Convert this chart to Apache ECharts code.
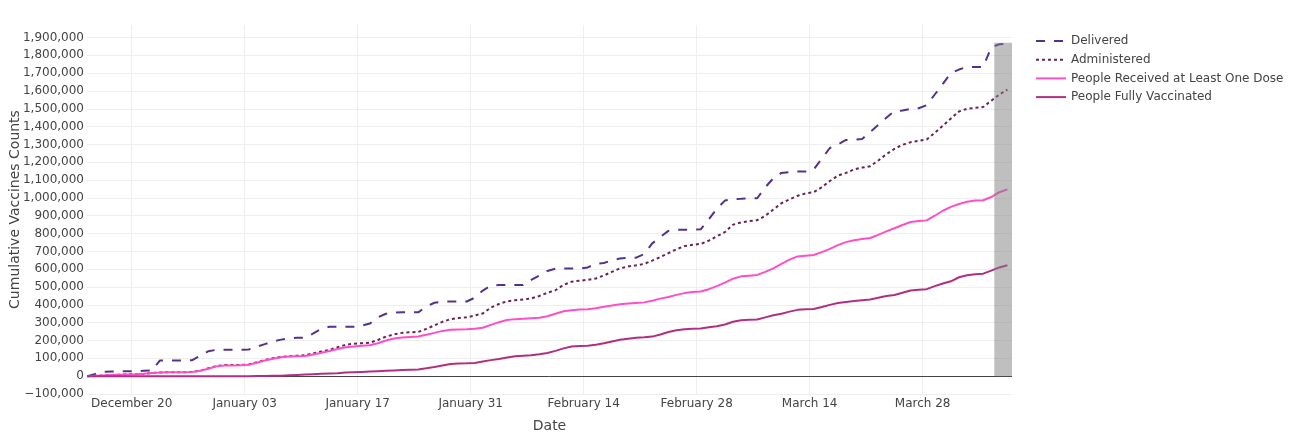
<!DOCTYPE html>
<html><head><meta charset="utf-8">
<script src="https://cdn.jsdelivr.net/npm/echarts@6/dist/echarts.min.js"></script>
<style>html,body{margin:0;padding:0;background:#fff}#c{width:1299px;height:434px}</style>
</head><body><div id="c"></div>
<script>
// ---- data ----
const firstDay = '2020-12-14 12:00';   // daily points, Dec 14 .. Apr 7
const seriesNames = ['Delivered', 'Administered', 'People Received at Least One Dose', 'People Fully Vaccinated'];
const delivered = [
  0, 13000, 25000, 26000, 27000, 27000, 28000, 30000, 32000, 88000,
  88000, 88000, 88000, 90000, 115000, 140000, 148000, 148000, 148000, 148000,
  150000, 165000, 180000, 195000, 205000, 212000, 216000, 216000, 240000, 265000,
  277000, 277000, 277000, 277000, 283000, 295000, 330000, 350000, 356000, 358000,
  358000, 358000, 390000, 412000, 418000, 419000, 419000, 419000, 440000, 480000,
  508000, 511000, 511000, 511000, 511000, 540000, 565000, 590000, 603000, 604000,
  604000, 604000, 610000, 631000, 635000, 650000, 660000, 664000, 665000, 685000,
  745000, 781000, 815000, 822000, 822000, 822000, 824000, 880000, 940000, 985000,
  994000, 995000, 997000, 998000, 1060000, 1110000, 1140000, 1145000, 1148000, 1148000,
  1160000, 1220000, 1280000, 1300000, 1325000, 1327000, 1330000, 1370000, 1410000, 1450000,
  1488000, 1490000, 1500000, 1503000, 1520000, 1580000, 1640000, 1700000, 1720000, 1735000,
  1735000, 1735000, 1845000, 1862000, 1866000
];
const administered = [
  0, 2000, 4000, 6000, 8000, 10000, 11000, 13000, 18000, 21000,
  22000, 22000, 22000, 24000, 31000, 44000, 57000, 62000, 62000, 63000,
  66000, 78000, 91000, 101000, 108000, 112000, 115000, 118000, 128000, 138000,
  148000, 162000, 176000, 182000, 185000, 188000, 203000, 222000, 234000, 243000,
  246000, 248000, 265000, 285000, 305000, 320000, 326000, 330000, 340000, 352000,
  385000, 405000, 420000, 426000, 430000, 436000, 450000, 468000, 482000, 512000,
  530000, 536000, 540000, 548000, 565000, 585000, 605000, 615000, 622000, 630000,
  648000, 668000, 690000, 712000, 730000, 737000, 742000, 760000, 785000, 808000,
  850000, 862000, 870000, 875000, 900000, 935000, 970000, 992000, 1012000, 1025000,
  1032000, 1060000, 1095000, 1125000, 1140000, 1160000, 1170000, 1178000, 1210000, 1245000,
  1275000, 1298000, 1312000, 1320000, 1328000, 1365000, 1405000, 1445000, 1485000, 1500000,
  1505000, 1510000, 1545000, 1580000, 1608000
];
const atLeastOneDose = [
  0, 2000, 4000, 6000, 8000, 10000, 11000, 13000, 18000, 21000,
  22000, 22000, 22000, 24000, 30000, 42000, 55000, 60000, 60000, 61000,
  64000, 75000, 88000, 98000, 106000, 110000, 112000, 113000, 122000, 131000,
  141000, 152000, 162000, 167000, 170000, 173000, 185000, 200000, 211000, 217000,
  220000, 223000, 232000, 243000, 254000, 260000, 262000, 263000, 266000, 272000,
  288000, 303000, 315000, 320000, 322000, 325000, 328000, 336000, 350000, 364000,
  370000, 374000, 376000, 381000, 390000, 397000, 404000, 408000, 411000, 414000,
  423000, 435000, 444000, 456000, 466000, 472000, 475000, 488000, 505000, 525000,
  547000, 560000, 564000, 568000, 585000, 605000, 630000, 654000, 672000, 676000,
  680000, 696000, 714000, 735000, 752000, 763000, 770000, 775000, 793000, 812000,
  830000, 848000, 865000, 870000, 874000, 900000, 928000, 950000, 966000, 978000,
  985000, 987000, 1005000, 1032000, 1048000
];
const fullyVaccinated = [
  0, 0, 0, 0, 0, 0, 0, 0, 0, 0,
  0, 0, 0, 0, 0, 0, 0, 0, 0, 0,
  0, 500, 1000, 2000, 3000, 5000, 7000, 9000, 11000, 13000,
  15000, 17000, 20000, 22000, 24000, 26000, 28000, 30000, 32000, 34000,
  36000, 38000, 44000, 51000, 60000, 68000, 71000, 72000, 74000, 82000,
  90000, 96000, 105000, 112000, 115000, 118000, 123000, 130000, 142000, 156000,
  166000, 169000, 171000, 176000, 185000, 195000, 204000, 210000, 215000, 218000,
  222000, 234000, 248000, 258000, 263000, 266000, 268000, 274000, 280000, 290000,
  305000, 314000, 316000, 318000, 330000, 342000, 350000, 362000, 372000, 375000,
  377000, 388000, 400000, 410000, 416000, 422000, 426000, 430000, 440000, 450000,
  455000, 468000, 481000, 485000, 488000, 505000, 520000, 532000, 555000, 566000,
  572000, 575000, 592000, 610000, 622000
];
const tickDates = ['2020-12-20', '2021-01-03', '2021-01-17', '2021-01-31', '2021-02-14', '2021-02-28', '2021-03-14', '2021-03-28'];
const tickLabels = ['December 20', 'January 03', 'January 17', 'January 31', 'February 14', 'February 28', 'March 14', 'March 28'];
const xRange = ['2020-12-14 11:00', '2021-04-08 01:40'];
const shadeX = ['2021-04-05 21:00', '2021-04-08 01:40'];
const shadeY = [0, 1870000];

// ---- helpers ----
function ts(s) {
  const m = s.match(/(\d+)-(\d+)-(\d+)(?: (\d+):(\d+))?/);
  return Date.UTC(+m[1], +m[2] - 1, +m[3], +(m[4] || 0), +(m[5] || 0));
}
const DAY = 86400000;
const t0 = ts(firstDay);
const toPts = arr => arr.map((v, i) => [t0 + i * DAY, v]);
const tickVals = tickDates.map(ts);
const FONT = 'DejaVu Sans';
const fmtNum = v => (v < 0 ? '\u2212' : '') + String(Math.abs(v)).replace(/\B(?=(\d{3})+(?!\d))/g, ',');
const dateLabel = v => { let b = 0; tickVals.forEach((t, i) => { if (Math.abs(t - v) < Math.abs(tickVals[b] - v)) b = i; }); return tickLabels[b]; };

const colors = ['#553289', '#6b2255', '#ff4fc6', '#b02f80'];
const dashes = [[9, 9], [3, 3], 'solid', 'solid'];
const values = [delivered, administered, atLeastOneDose, fullyVaccinated];

const lineSeries = seriesNames.map((name, k) => ({
  name, type: 'line', data: toPts(values[k]), symbol: 'none', showSymbol: false,
  color: colors[k], z: 3,
  lineStyle: { color: colors[k], width: 2, type: dashes[k], cap: 'butt' },
  emphasis: { disabled: true }, silent: true
}));

const chart = echarts.init(document.getElementById('c'), null, { renderer: 'canvas' });
chart.setOption({
  animation: false,
  backgroundColor: '#fff',
  textStyle: { fontFamily: FONT },
  grid: { left: 87, right: 287, top: 25, bottom: 40, containLabel: false, outerBoundsMode: 'none' },
  legend: {
    data: seriesNames, orient: 'vertical', left: 1035, top: 35, padding: 0,
    itemWidth: 30, itemHeight: 14, itemGap: 6.7, selectedMode: false,
    itemStyle: { color: 'rgba(0,0,0,0)', borderColor: 'rgba(0,0,0,0)', borderWidth: 0 },
    textStyle: { color: '#444', fontSize: 12, fontFamily: FONT }
  },
  xAxis: {
    type: 'value', min: ts(xRange[0]), max: ts(xRange[1]),
    name: 'Date', nameLocation: 'middle', nameGap: 25, nameMoveOverlap: false,
    nameTextStyle: { color: '#444', fontSize: 14, fontFamily: FONT },
    axisLine: { show: false },
    axisTick: { show: false, customValues: tickVals },
    axisLabel: { customValues: tickVals, color: '#444', fontSize: 12, fontFamily: FONT, margin: 4, formatter: dateLabel },
    splitLine: { show: true, lineStyle: { color: '#eee', width: 1 } }
  },
  yAxis: {
    type: 'value', min: -100000, max: 1970000, interval: 100000,
    name: 'Cumulative Vaccines Counts', nameLocation: 'middle', nameGap: 65, nameMoveOverlap: false,
    nameTextStyle: { color: '#444', fontSize: 14, fontFamily: FONT },
    axisLine: { show: false }, axisTick: { show: false },
    axisLabel: { color: '#444', fontSize: 12, fontFamily: FONT, margin: 3, showMaxLabel: false, formatter: fmtNum },
    splitLine: { show: true, showMaxLine: false, lineStyle: { color: '#eee', width: 1 } }
  },
  series: [
    {
      type: 'line', data: [], silent: true, z: 1,
      markLine: {
        z: 1, symbol: 'none', silent: true, animation: false, label: { show: false },
        lineStyle: { color: '#444', width: 1, type: 'solid' },
        emphasis: { disabled: true },
        data: [{ yAxis: 0 }]
      }
    },
    ...lineSeries,
    {
      type: 'line', data: [], silent: true, z: 10,
      markArea: {
        z: 10, silent: true, animation: false,
        itemStyle: { color: 'rgba(128,128,128,0.5)' },
        emphasis: { disabled: true },
        data: [[{ xAxis: ts(shadeX[0]), yAxis: shadeY[0] }, { xAxis: ts(shadeX[1]), yAxis: shadeY[1] }]]
      }
    }
  ]
});
</script></body></html>
